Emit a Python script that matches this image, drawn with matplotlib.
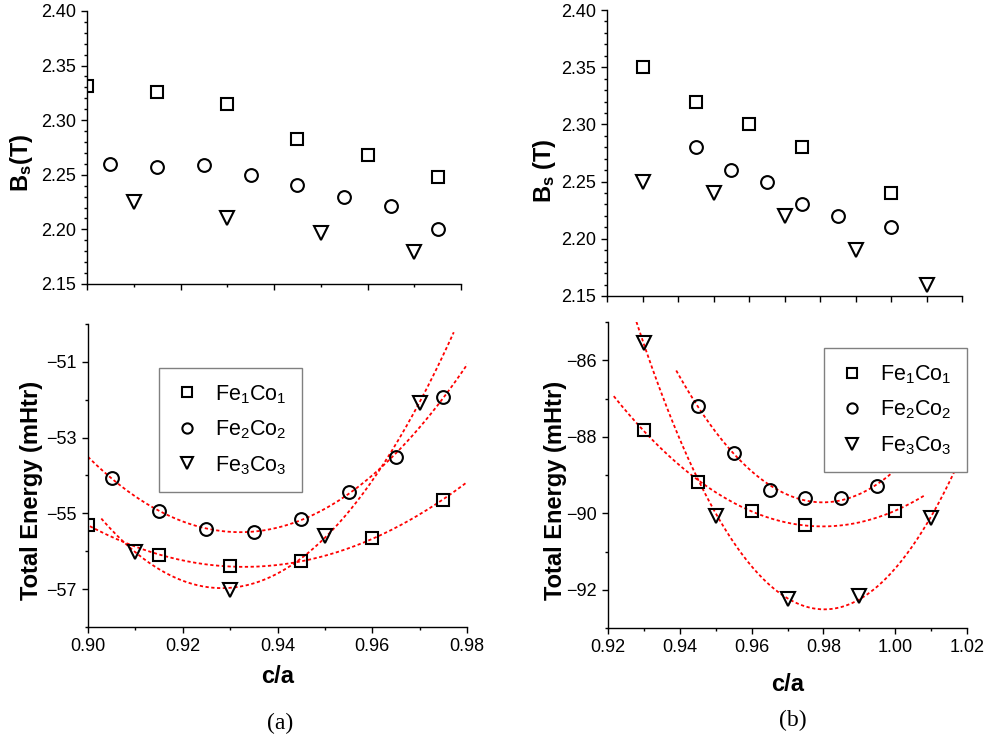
import numpy as np
import matplotlib
matplotlib.use("Agg")
import matplotlib.pyplot as plt
from matplotlib.ticker import MultipleLocator, FormatStrFormatter

plt.rcParams['font.family'] = ['Liberation Sans', 'DejaVu Sans']
plt.rcParams['mathtext.default'] = 'regular'

# ---- panel (a) ----
ca_a_sq = [0.900, 0.915, 0.930, 0.945, 0.960, 0.975]
ca_a_ci = [0.905, 0.915, 0.925, 0.935, 0.945, 0.955, 0.965, 0.975]
ca_a_tr = [0.910, 0.930, 0.950, 0.970]
bs_a_sq = [2.331, 2.326, 2.315, 2.283, 2.268, 2.248]
bs_a_ci = [2.260, 2.257, 2.259, 2.250, 2.241, 2.230, 2.221, 2.200]
bs_a_tr = [2.225, 2.210, 2.197, 2.179]
e_a_sq = [-55.30, -56.11, -56.40, -56.27, -55.65, -54.64]
e_a_ci = [-54.07, -54.94, -55.42, -55.49, -55.15, -54.43, -53.50, -51.92]
e_a_tr = [-56.01, -57.02, -55.59, -52.08]

# ---- panel (b) ----
ca_b_sq = [0.930, 0.945, 0.960, 0.975, 1.000]
bs_b_sq = [2.35, 2.32, 2.30, 2.28, 2.24]
ca_b_bs_ci = [0.945, 0.955, 0.965, 0.975, 0.985, 1.000]
bs_b_ci = [2.28, 2.26, 2.25, 2.23, 2.22, 2.21]
ca_b_tr = [0.930, 0.950, 0.970, 0.990, 1.010]
bs_b_tr = [2.25, 2.24, 2.22, 2.19, 2.16]
e_b_sq = [-87.83, -89.17, -89.94, -90.30, -89.94]
ca_b_e_ci = [0.945, 0.955, 0.965, 0.975, 0.985, 0.995]
e_b_ci = [-87.19, -88.42, -89.38, -89.60, -89.60, -89.28]
e_b_tr = [-85.55, -90.06, -92.24, -92.17, -90.12]

labels = ['Fe$_1$Co$_1$', 'Fe$_2$Co$_2$', 'Fe$_3$Co$_3$']
markers = ['s', 'o', 'v']
msizes = [8.2, 9.2, 10]

fig = plt.figure(figsize=(9.88, 7.42), dpi=100)
ax_ta = fig.add_axes([0.0881, 0.6173, 0.3785, 0.3679])
ax_ba = fig.add_axes([0.0891, 0.1550, 0.3836, 0.4084])
ax_tb = fig.add_axes([0.6144, 0.6011, 0.3593, 0.3854])
ax_bb = fig.add_axes([0.6154, 0.1536, 0.3634, 0.4124])


def style(ax):
    for s in ['top', 'right']:
        ax.spines[s].set_visible(False)
    for s in ['left', 'bottom']:
        ax.spines[s].set_linewidth(1.0)
    ax.tick_params(which='major', direction='out', length=4.5, width=1.0, labelsize=13)
    ax.tick_params(which='minor', direction='out', length=2.5, width=1.0)


def points(ax, xs, ys):
    handles = []
    for x, y, m, ms, lab in zip(xs, ys, markers, msizes, labels):
        h, = ax.plot(x, y, linestyle='none', marker=m, ms=ms, mfc='none',
                     mec='black', mew=1.5, label=lab, zorder=3)
        handles.append(h)
    return handles


def fits(ax, xs, ys):
    for x, y in zip(xs, ys):
        x = np.asarray(x)
        pad = 0.12 * (x.max() - x.min())
        c = np.polyfit(x, y, 2)
        xx = np.linspace(x.min() - pad, x.max() + pad, 200)
        ax.plot(xx, np.polyval(c, xx), color='red', lw=1.3,
                linestyle=(0, (1.8, 1.4)), zorder=2)


def legend(ax, h, loc, anchor):
    leg = ax.legend(handles=h, loc=loc, bbox_to_anchor=anchor,
                    borderaxespad=0, fontsize=15.5, fancybox=False, framealpha=1,
                    edgecolor='#808080', handlelength=1.2, handletextpad=0.7,
                    labelspacing=0.6, borderpad=0.7, markerscale=0.8)
    leg.get_frame().set_linewidth(1.0)
    leg.set_zorder(5)


# top (a)
style(ax_ta)
points(ax_ta, [ca_a_sq, ca_a_ci, ca_a_tr], [bs_a_sq, bs_a_ci, bs_a_tr])
ax_ta.set_xlim(0.90, 0.98)
ax_ta.set_ylim(2.15, 2.40)
ax_ta.xaxis.set_major_locator(MultipleLocator(0.02))
ax_ta.xaxis.set_minor_locator(MultipleLocator(0.01))
ax_ta.yaxis.set_major_locator(MultipleLocator(0.05))
ax_ta.yaxis.set_minor_locator(MultipleLocator(0.01))
ax_ta.yaxis.set_major_formatter(FormatStrFormatter('%.2f'))
ax_ta.tick_params(axis='x', labelbottom=False)
ax_ta.set_ylabel('B$_s$(T)', fontsize=17, fontweight='bold')
ax_ta.yaxis.set_label_coords(-0.174, 0.443)
ax_ta.yaxis.label.set(va='center', ha='center')

# bottom (a)
style(ax_ba)
fits(ax_ba, [ca_a_sq, ca_a_ci, ca_a_tr], [e_a_sq, e_a_ci, e_a_tr])
h = points(ax_ba, [ca_a_sq, ca_a_ci, ca_a_tr], [e_a_sq, e_a_ci, e_a_tr])
ax_ba.set_xlim(0.90, 0.98)
ax_ba.set_ylim(-58, -50)
ax_ba.xaxis.set_major_locator(MultipleLocator(0.02))
ax_ba.xaxis.set_minor_locator(MultipleLocator(0.01))
ax_ba.xaxis.set_major_formatter(FormatStrFormatter('%.2f'))
ax_ba.set_yticks([-57, -55, -53, -51])
ax_ba.set_yticks([-58, -56, -54, -52, -50], minor=True)
ax_ba.set_xlabel('c/a', fontsize=17, fontweight='bold')
ax_ba.xaxis.set_label_coords(0.501, -0.165)
ax_ba.xaxis.label.set(va='center')
ax_ba.set_ylabel('Total Energy (mHtr)', fontsize=17, fontweight='bold')
ax_ba.yaxis.set_label_coords(-0.148, 0.449)
ax_ba.yaxis.label.set(va='center', ha='center')
legend(ax_ba, h, 'upper left', (0.187, 0.855))

# top (b)
style(ax_tb)
points(ax_tb, [ca_b_sq, ca_b_bs_ci, ca_b_tr], [bs_b_sq, bs_b_ci, bs_b_tr])
ax_tb.set_xlim(0.92, 1.02)
ax_tb.set_ylim(2.15, 2.40)
ax_tb.xaxis.set_major_locator(MultipleLocator(0.01))
ax_tb.yaxis.set_major_locator(MultipleLocator(0.05))
ax_tb.yaxis.set_minor_locator(MultipleLocator(0.01))
ax_tb.yaxis.set_major_formatter(FormatStrFormatter('%.2f'))
ax_tb.tick_params(axis='x', labelbottom=False)
ax_tb.set_ylabel('B$_s$ (T)', fontsize=17, fontweight='bold')
ax_tb.yaxis.set_label_coords(-0.175, 0.44)
ax_tb.yaxis.label.set(va='center', ha='center')

# bottom (b)
style(ax_bb)
fits(ax_bb, [ca_b_sq, ca_b_e_ci, ca_b_tr], [e_b_sq, e_b_ci, e_b_tr])
h = points(ax_bb, [ca_b_sq, ca_b_e_ci, ca_b_tr], [e_b_sq, e_b_ci, e_b_tr])
ax_bb.set_xlim(0.92, 1.02)
ax_bb.set_ylim(-93, -85)
ax_bb.xaxis.set_major_locator(MultipleLocator(0.02))
ax_bb.xaxis.set_minor_locator(MultipleLocator(0.01))
ax_bb.xaxis.set_major_formatter(FormatStrFormatter('%.2f'))
ax_bb.yaxis.set_major_locator(MultipleLocator(2))
ax_bb.yaxis.set_minor_locator(MultipleLocator(1))
ax_bb.set_xlabel('c/a', fontsize=17, fontweight='bold')
ax_bb.xaxis.set_label_coords(0.501, -0.186)
ax_bb.xaxis.label.set(va='center')
ax_bb.set_ylabel('Total Energy (mHtr)', fontsize=17, fontweight='bold')
ax_bb.yaxis.set_label_coords(-0.145, 0.451)
ax_bb.yaxis.label.set(va='center', ha='center')
legend(ax_bb, h, 'upper right', (1.0, 0.915))

fig.text(280 / 988, 1 - 723 / 742, '(a)', family='Liberation Serif', fontsize=17,
         ha='center', va='center')
fig.text(793 / 988, 1 - 720 / 742, '(b)', family='Liberation Serif', fontsize=17,
         ha='center', va='center')

fig.savefig('out.png', dpi=100)
